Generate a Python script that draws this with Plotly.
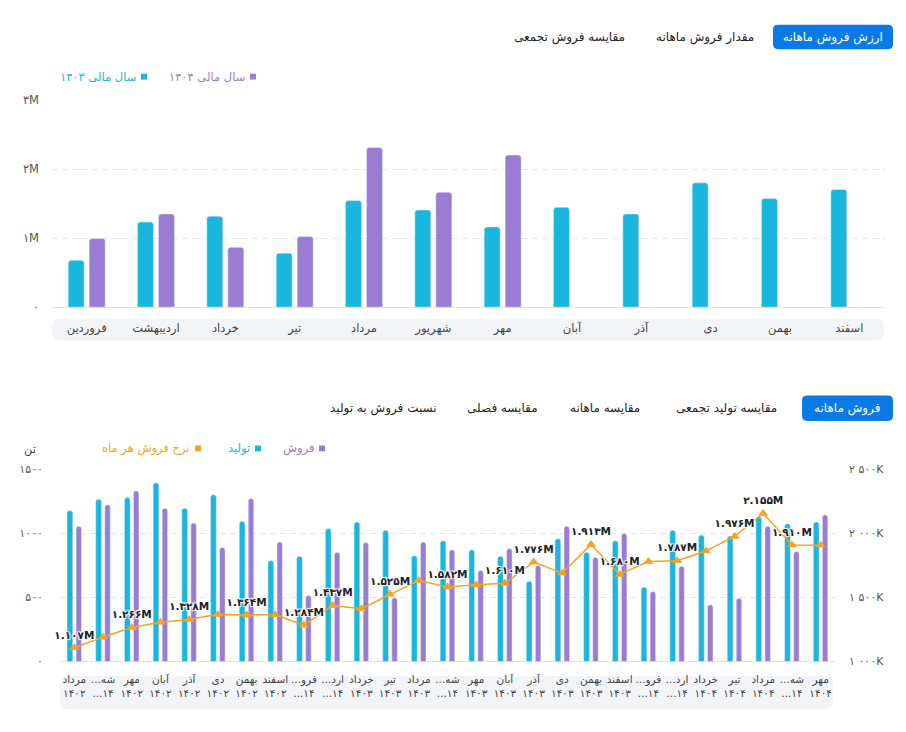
import plotly.graph_objects as go

W, H = 906, 732

# ---------------- data: top chart (ارزش فروش ماهانه) ----------------
months_top = ["فروردین", "اردیبهشت", "خرداد", "تیر", "مرداد", "شهریور",
              "مهر", "آبان", "آذر", "دی", "بهمن", "اسفند"]
value_1403 = [678e3, 1233e3, 1318e3, 782e3, 1546e3, 1408e3,
              1162e3, 1447e3, 1351e3, 1802e3, 1575e3, 1707e3]
value_1404 = [996e3, 1351e3, 868e3, 1024e3, 2314e3, 1664e3,
              2205e3, None, None, None, None, None]
top_ticks = [0, 1e6, 2e6, 3e6]

# ---------------- data: bottom chart (فروش ماهانه) ----------------
bottom_month = ["مرداد", "...شه", "مهر", "آبان", "آذر", "دی", "بهمن", "اسفند",
                "...فرو", "...ارد", "خرداد", "تیر", "مرداد", "...شه", "مهر", "آبان",
                "آذر", "دی", "بهمن", "اسفند", "...فرو", "...ارد", "خرداد", "تیر",
                "مرداد", "...شه", "مهر"]
bottom_year = ["۱۴۰۲", "...۱۴", "۱۴۰۲", "۱۴۰۲", "۱۴۰۲", "۱۴۰۲", "۱۴۰۲", "۱۴۰۲",
               "...۱۴", "...۱۴", "۱۴۰۳", "۱۴۰۳", "۱۴۰۳", "...۱۴", "۱۴۰۳", "۱۴۰۳",
               "۱۴۰۳", "۱۴۰۳", "۱۴۰۳", "۱۴۰۳", "...۱۴", "...۱۴", "۱۴۰۴", "۱۴۰۴",
               "۱۴۰۴", "...۱۴", "۱۴۰۴"]
production = [1178, 1267, 1280, 1395, 1196, 1301, 1094, 788, 821, 1038, 1089, 1025, 826, 943,
              872, 821, 627, 959, 852, 943, 581, 1025, 987, 979, 1132, 1076, 1089]
sales = [1056, 1224, 1331, 1196, 1081, 890, 1272, 933, 515, 852, 928, 497, 933, 872,
         711, 882, 750, 1056, 813, 999, 546, 744, 444, 494, 1056, 859, 1145]
rate = [1107e3, 1192e3, 1266e3, 1307e3, 1328e3, 1368e3, 1364e3, 1365e3, 1284e3, 1437e3,
        1412e3, 1525e3, 1632e3, 1582e3, 1600e3, 1610e3, 1776e3, 1690e3, 1913e3, 1680e3,
        1780e3, 1787e3, 1862e3, 1976e3, 2155e3, 1910e3, 1908e3]
rate_label_idx = [0, 2, 4, 6, 8, 9, 11, 13, 15, 16, 18, 19, 21, 23, 24, 25]
left_ticks = [0, 500, 1000, 1500]
right_ticks = [1e6, 1.5e6, 2e6, 2.5e6]

# ---------------- helpers ----------------
FA = str.maketrans("0123456789", "۰۱۲۳۴۵۶۷۸۹")


def fa(s):
    return str(s).translate(FA)


def px(x):
    return x / W


def py(y):
    return 1 - y / H


def rrect(x0, y0, x1, y1, r, color):
    rx, ry = r / W, r / H
    a0, a1 = px(x0), px(x1)
    b0, b1 = py(y1), py(y0)  # bottom, top in paper
    path = (f"M{a0+rx},{b0} L{a1-rx},{b0} Q{a1},{b0} {a1},{b0+ry} "
            f"L{a1},{b1-ry} Q{a1},{b1} {a1-rx},{b1} L{a0+rx},{b1} "
            f"Q{a0},{b1} {a0},{b1-ry} L{a0},{b0+ry} Q{a0},{b0} {a0+rx},{b0} Z")
    return dict(type="path", xref="paper", yref="paper", path=path,
                fillcolor=color, line=dict(width=0), layer="below")


def sq(x0, yc, color, s=6):
    return dict(type="rect", xref="paper", yref="paper",
                x0=px(x0), x1=px(x0 + s), y0=py(yc + s / 2), y1=py(yc - s / 2),
                fillcolor=color, line=dict(width=0))


FONT = "DejaVu Sans, sans-serif"
CYAN = "#1ab6dd"
PURPLE = "#9a7dd3"
ORANGE = "#f6a224"
BLUE = "#0a7be6"
GRID = "#e3e4ea"

fig = go.Figure()

# top chart bars
fig.add_trace(go.Bar(x=months_top, y=value_1403, xaxis="x", yaxis="y",
                     marker_color=CYAN, width=0.231, offset=-0.267, showlegend=False))
fig.add_trace(go.Bar(x=months_top, y=value_1404, xaxis="x", yaxis="y",
                     marker_color=PURPLE, width=0.231, offset=0.036, showlegend=False))

# bottom chart
xb = list(range(len(bottom_month)))
fig.add_trace(go.Bar(x=xb, y=production, xaxis="x2", yaxis="y2",
                     marker_color=CYAN, width=0.2, offset=-0.255, showlegend=False))
fig.add_trace(go.Bar(x=xb, y=sales, xaxis="x2", yaxis="y2",
                     marker_color=PURPLE, width=0.19, offset=0.06, showlegend=False))
rate_text = [fa(f"{v/1e6:.3f}M") if i in rate_label_idx else "" for i, v in enumerate(rate)]
fig.add_trace(go.Scatter(
    x=xb, y=rate, xaxis="x2", yaxis="y3", mode="lines+markers+text",
    line=dict(color=ORANGE, width=1.5),
    marker=dict(symbol="triangle-up", size=9, color=ORANGE),
    text=rate_text, textposition="top center",
    textfont=dict(family=FONT, size=10.5, color="#222", weight="bold",
                  shadow="1px 1px 1px #fff, -1px -1px 1px #fff, 1px -1px 1px #fff, -1px 1px 1px #fff"),
    cliponaxis=False, showlegend=False))

tick_font = dict(family=FONT, size=11.5, color="#555")

fig.update_layout(
    width=W, height=H, autosize=False,
    margin=dict(l=0, r=0, t=0, b=0),
    paper_bgcolor="white", plot_bgcolor="white",
    barmode="overlay", barcornerradius=3,
    font=dict(family=FONT),
    xaxis=dict(domain=[px(52), px(884)], anchor="y", showgrid=False, zeroline=False,
               showline=False, ticks="", tickfont=dict(family=FONT, size=11.5, color="#444"),
               ticklabelstandoff=12, tickangle=0),
    yaxis=dict(domain=[py(306), py(95)], anchor="x", range=[0, 3e6],
               tickvals=top_ticks,
               ticktext=[fa(int(v / 1e6)) + ("M" if v else "") for v in top_ticks],
               showgrid=True, gridcolor=GRID, griddash="6px,4px", gridwidth=1,
               zeroline=True, zerolinecolor="#dfe0e6", zerolinewidth=1,
               showline=False, ticks="", tickfont=tick_font, ticklabelstandoff=12),
    xaxis2=dict(domain=[px(60), px(835)], anchor="y2", range=[-0.5, len(xb) - 0.5],
                tickvals=xb,
                ticktext=[f"{m}<br>{y}" for m, y in zip(bottom_month, bottom_year)],
                showgrid=False, zeroline=False, showline=False, ticks="",
                tickangle=0,
                tickfont=dict(family=FONT, size=10.5, color="#444"), ticklabelstandoff=10),
    yaxis2=dict(domain=[py(667.3), py(471.3)], anchor="x2", range=[0, 1500],
                tickvals=left_ticks, ticktext=[fa(v) for v in left_ticks],
                showgrid=True, gridcolor=GRID, griddash="6px,4px", gridwidth=1,
                zeroline=True, zerolinecolor="#dfe0e6", zerolinewidth=1,
                showline=False, ticks="", tickfont=dict(family=FONT, size=11, color="#555"),
                ticklabelstandoff=16),
    yaxis3=dict(domain=[py(667.3), py(471.3)], anchor="x2", overlaying="y2", side="right",
                range=[1e6, 2.5e6], tickvals=right_ticks,
                ticktext=[fa(f"{int(v/1000):,}".replace(",", " ")) + "K" for v in right_ticks],
                showgrid=False, zeroline=False, showline=False, ticks="",
                tickfont=dict(family=FONT, size=11, color="#555"), ticklabelstandoff=13),
)

shapes = [
    rrect(52, 318, 884, 340, 8, "#f3f4f8"),
    rrect(60, 682, 833, 716, 8, "#f3f4f8"),
    rrect(773, 18, 893, 43, 5, BLUE),
    rrect(802, 396, 893, 422, 5, BLUE),
    sq(141, 71, CYAN), sq(250, 71, PURPLE),
    sq(319, 450, PURPLE), sq(255, 450, CYAN), sq(195, 450, ORANGE),
]
fig.update_layout(shapes=shapes)


def ann(text, x, y, color="#222", size=12, xanchor="center", weight="normal"):
    return dict(text=text, x=px(x), y=py(y), xref="paper", yref="paper",
                xanchor=xanchor, yanchor="middle", showarrow=False,
                font=dict(family=FONT, size=size, color=color, weight=weight))


anns = [
    ann("ارزش فروش ماهانه", 833, 31, "white", 12),
    ann("مقدار فروش ماهانه", 705, 31),
    ann("مقایسه فروش تجمعی", 569, 31),
    ann("سال مالی ۱۴۰۳", 138, 71, CYAN, 11.5, "right"),
    ann("سال مالی ۱۴۰۴", 247, 71, PURPLE, 11.5, "right"),
    ann("فروش ماهانه", 847, 409, "white", 12),
    ann("مقایسه تولید تجمعی", 726, 409),
    ann("مقایسه ماهانه", 605, 409),
    ann("مقایسه فصلی", 502, 409),
    ann("نسبت فروش به تولید", 383, 409),
    ann("فروش", 316, 450, PURPLE, 11.5, "right"),
    ann("تولید", 252, 450, CYAN, 11.5, "right"),
    ann("نرخ فروش هر ماه", 191, 450, ORANGE, 11.5, "right"),
    ann("تن", 30, 451, "#444", 11.5),
]
fig.update_layout(annotations=anns)

fig.write_html("out.html")
